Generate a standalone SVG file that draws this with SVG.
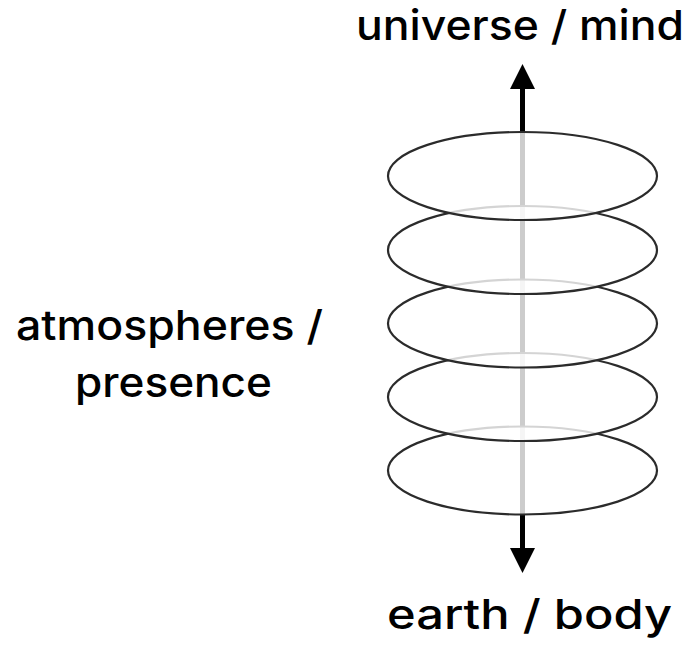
<svg xmlns="http://www.w3.org/2000/svg" width="686" height="645" viewBox="0 0 686 645">
  <style>
    .lbl { font-family: Inter, "Liberation Sans", Arial, sans-serif; font-weight: 500; font-size: 41px; fill: #000; }
    .ring { fill: #fff; fill-opacity: 0.8; stroke: #2b2b2b; stroke-width: 2.2; }
    .axis { stroke: #000; stroke-width: 5; fill: none; }
  </style>
  <defs>
    <marker id="arrow" viewBox="0 0 25 25" refX="0" refY="12.5" markerWidth="25" markerHeight="25" markerUnits="userSpaceOnUse" orient="auto-start-reverse">
      <path d="M0,0 L25,12.5 L0,25 Z" fill="#000"/>
    </marker>
  </defs>
  <rect width="686" height="645" fill="#fff"/>
  <g id="connectors">
    <line class="axis" x1="522.5" y1="89" x2="522.5" y2="548" marker-start="url(#arrow)" marker-end="url(#arrow)"/>
  </g>
  <g id="layer5"><ellipse class="ring" cx="522.5" cy="470.5" rx="134.5" ry="44"/></g>
  <g id="layer4"><ellipse class="ring" cx="522.5" cy="397" rx="134.5" ry="44"/></g>
  <g id="layer3"><ellipse class="ring" cx="522.5" cy="323.5" rx="134.5" ry="44"/></g>
  <g id="layer2"><ellipse class="ring" cx="522.5" cy="250" rx="134.5" ry="44"/></g>
  <g id="layer1"><ellipse class="ring" cx="522.5" cy="176" rx="134.5" ry="44"/></g>
  <g id="label-top"><text class="lbl" x="356" y="40" textLength="328" lengthAdjust="spacingAndGlyphs">universe / mind</text></g>
  <g id="label-side">
    <text class="lbl" x="16" y="340" textLength="307" lengthAdjust="spacingAndGlyphs">atmospheres /</text>
    <text class="lbl" x="75" y="397" textLength="197" lengthAdjust="spacingAndGlyphs">presence</text>
  </g>
  <g id="label-bottom"><text class="lbl" x="387" y="629" textLength="285" lengthAdjust="spacingAndGlyphs">earth / body</text></g>
</svg>
